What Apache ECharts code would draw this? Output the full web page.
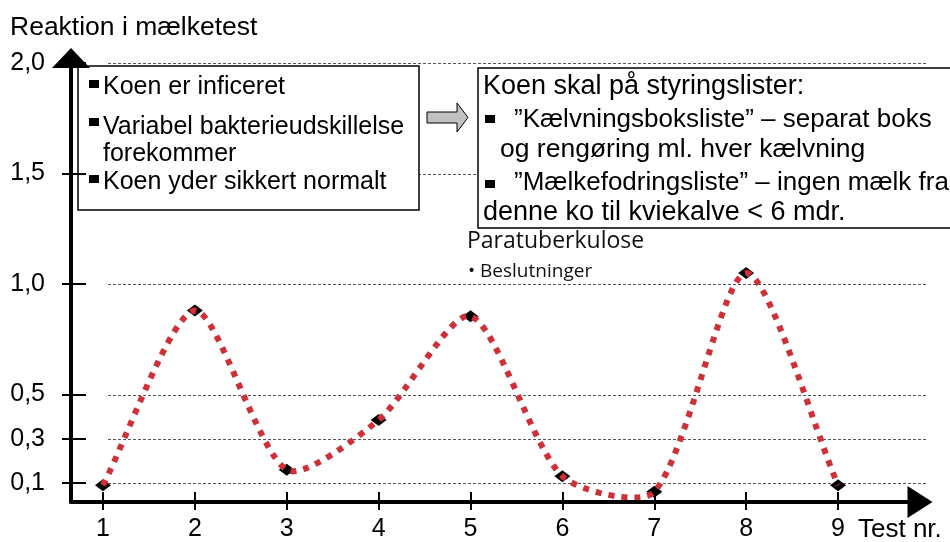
<!DOCTYPE html>
<html>
<head>
<meta charset="utf-8">
<script src="https://cdn.jsdelivr.net/npm/echarts@6/dist/echarts.min.js"></script>
<style>
  html, body { margin: 0; padding: 0; background: #fff; }
  #chart { width: 950px; height: 542px; }
</style>
</head>
<body>
<div id="chart"></div>
<script>
// Test number on the x axis, milk-test reaction on the y axis
const testNumbers = [1, 2, 3, 4, 5, 6, 7, 8, 9];
const reactionValues = [0.09, 0.88, 0.16, 0.385, 0.855, 0.13, 0.06, 1.05, 0.09];
const yTickValues = [0.1, 0.3, 0.5, 1.0, 1.5, 2.0];

const FONT = "'Liberation Sans', Arial, Helvetica, sans-serif";
const HUMANIST = "'Open Sans', 'Noto Sans', sans-serif";

const chart = echarts.init(document.getElementById('chart'), null, { renderer: 'canvas' });

const X_MIN = 0.652, X_MAX = 9.892;
const Y_MIN = 0.014, Y_MAX = 2.023;
const GRID_FROM = 1.055, GRID_TO = 9.968;
const CURVE_TENSION = 0.25;

function decimalComma(v) {
  return v.toFixed(1).replace('.', ',');
}

function txt(text, x, y, size, family, z, color) {
  return {
    type: 'text', z: z || 30,
    style: { text: text, x: x, y: y, font: size + 'px ' + (family || FONT), fill: color || '#000', verticalAlign: 'middle' }
  };
}
function bullet(x, y, z) {
  return { type: 'rect', z: z || 30, shape: { x: x, y: y, width: 10, height: 8 }, style: { fill: '#000' } };
}

const points = testNumbers.map((t, i) => [t, reactionValues[i]]);

// Smoothed curve through the measured points (Catmull-Rom style Bezier,
// control arms weighted by neighbouring segment lengths, no clamping).
function smoothPath(px) {
  const n = px.length;
  const dist = (a, b) => Math.hypot(b[0] - a[0], b[1] - a[1]);
  const after = [], before = [];
  for (let i = 0; i < n; i++) {
    const p = px[i];
    const prev = px[Math.max(i - 1, 0)];
    const next = px[Math.min(i + 1, n - 1)];
    const dPrev = dist(prev, p), dNext = dist(p, next);
    const tot = dPrev + dNext || 1;
    const vx = next[0] - prev[0], vy = next[1] - prev[1];
    before.push([p[0] - vx * CURVE_TENSION * dPrev / tot, p[1] - vy * CURVE_TENSION * dPrev / tot]);
    after.push([p[0] + vx * CURVE_TENSION * dNext / tot, p[1] + vy * CURVE_TENSION * dNext / tot]);
  }
  let d = 'M' + px[0][0] + ' ' + px[0][1];
  for (let i = 0; i < n - 1; i++) {
    const c1 = after[i], c2 = before[i + 1], e = px[i + 1];
    d += ' C' + c1[0] + ' ' + c1[1] + ' ' + c2[0] + ' ' + c2[1] + ' ' + e[0] + ' ' + e[1];
  }
  return d;
}

const option = {
  animation: false,
  backgroundColor: '#fff',
  grid: { left: 71, right: 30, top: 58, bottom: 40, containLabel: false, outerBoundsMode: 'none' },
  xAxis: [{
    type: 'value', min: X_MIN, max: X_MAX, z: 40,
    axisLine: { show: true, onZero: false, symbol: ['none', 'triangle'], symbolSize: [32, 25],
      lineStyle: { color: '#000', width: 4 } },
    axisTick: { show: true, length: 8, customValues: testNumbers, lineStyle: { color: '#000', width: 2 } },
    axisLabel: { show: true, margin: 15, customValues: testNumbers, color: '#000', fontSize: 25, fontFamily: FONT,
      formatter: v => String(v) },
    splitLine: { show: false }
  }, {
    type: 'value', min: X_MIN, max: X_MAX, position: 'bottom', z: 40,
    axisLine: { show: false, onZero: false },
    axisTick: { show: true, inside: true, length: 10, customValues: testNumbers, lineStyle: { color: '#000', width: 2 } },
    axisLabel: { show: false },
    splitLine: { show: false }
  }],
  yAxis: [{
    type: 'value', min: Y_MIN, max: Y_MAX, z: 40,
    axisLine: { show: true, onZero: false, symbol: ['none', 'triangle'], symbolSize: [38, 20],
      lineStyle: { color: '#000', width: 4 } },
    axisTick: { show: true, length: 9, customValues: yTickValues, lineStyle: { color: '#000', width: 2 } },
    axisLabel: { show: true, margin: 26, customValues: yTickValues, color: '#000', fontSize: 25, fontFamily: FONT,
      formatter: decimalComma },
    splitLine: { show: false }
  }, {
    type: 'value', min: Y_MIN, max: Y_MAX, position: 'left', offset: 0, z: 40,
    axisLine: { show: false, onZero: false },
    axisTick: { show: true, inside: true, length: 15, customValues: yTickValues, lineStyle: { color: '#000', width: 2 } },
    axisLabel: { show: false },
    splitLine: { show: false }
  }],
  series: [{
    // dashed reference lines at the labelled reaction levels
    type: 'custom', z: 1, silent: true, clip: false,
    data: yTickValues,
    renderItem: (params, api) => {
      const v = api.value(0);
      const a = api.coord([GRID_FROM, v]);
      const b = api.coord([GRID_TO, v]);
      return {
        type: 'line',
        shape: { x1: a[0], y1: Math.round(a[1]) + 0.5, x2: b[0], y2: Math.round(b[1]) + 0.5 },
        style: { stroke: '#555', lineWidth: 1, lineDash: [3, 2] }
      };
    },
    encode: { y: 0 }
  }, {
    // diamonds sit underneath the dotted curve
    type: 'scatter', z: 3,
    symbol: 'diamond', symbolSize: [16, 12],
    itemStyle: { color: '#000', opacity: 1 },
    data: points
  }, {
    type: 'custom', z: 4, silent: true, clip: false,
    data: points,
    renderItem: (params, api) => {
      if (params.dataIndex !== 0) return null;
      const px = points.map(p => api.coord(p));
      return {
        type: 'path',
        shape: { pathData: smoothPath(px) },
        style: { fill: null, stroke: '#CD3038', lineWidth: 6, lineDash: [6, 7], lineCap: 'butt' }
      };
    },
    encode: { x: 0, y: 1 }
  }],
  graphic: [
    txt('Reaktion i mælketest', 10, 28, 26.5),
    txt('Test nr.', 858, 530, 26),

    // left box
    { type: 'rect', z: 20, shape: { x: 78, y: 66, width: 341, height: 144 },
      style: { fill: '#fff', stroke: '#000', lineWidth: 1.5 } },
    bullet(89, 80), txt('Koen er inficeret', 103, 87, 25),
    bullet(89, 118), txt('Variabel bakterieudskillelse', 103, 127, 25),
    txt('forekommer', 103, 154, 25),
    bullet(89, 175), txt('Koen yder sikkert normalt', 103, 182, 25),

    // block arrow between the boxes
    { type: 'polygon', z: 20,
      shape: { points: [[427, 112], [457, 112], [457, 103], [468, 117.5], [457, 132], [457, 123], [427, 123]] },
      style: { fill: '#C0C0C0', stroke: '#000', lineWidth: 1 } },

    // faint heading behind the right box
    txt('Paratuberkulose', 467, 241, 23, HUMANIST, 10, '#111'),
    txt('• Beslutninger', 468, 272, 19, HUMANIST, 10, '#111'),

    // right box
    { type: 'rect', z: 20, shape: { x: 478, y: 68, width: 490, height: 160 },
      style: { fill: '#fff', stroke: '#000', lineWidth: 1.5 } },
    txt('Koen skal på styringslister:', 483, 87, 27),
    bullet(485, 115), txt('”Kælvningsboksliste” – separat boks', 514, 120, 26),
    txt('og rengøring ml. hver kælvning', 500, 150, 26.5),
    bullet(485, 180), txt('”Mælkefodringsliste” – ingen mælk fra', 514, 183, 26),
    txt('denne ko til kviekalve < 6 mdr.', 483, 213, 27)
  ]
};

chart.setOption(option);
</script>
</body>
</html>
